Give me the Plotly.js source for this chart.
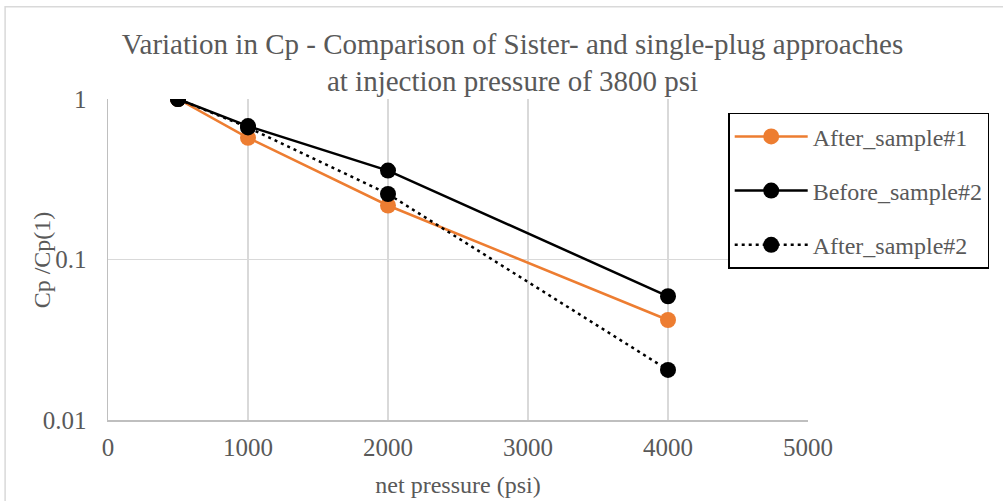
<!DOCTYPE html>
<html><head><meta charset="utf-8">
<script src="https://cdn.plot.ly/plotly-3.0.1.min.js"></script>
<style>html,body{margin:0;padding:0;background:#fff}#chart{width:1003px;height:501px}</style>
</head><body><div id="chart"></div>
<script>
const netPressure = [500, 1000, 2000, 4000];
const afterSample1 = [1, 0.573, 0.217, 0.042];
const beforeSample2 = [1, 0.678, 0.358, 0.059];
const afterSample2 = [1, 0.665, 0.256, 0.0205];
const seriesNames = ['After_sample#1', 'Before_sample#2', 'After_sample#2'];
const xTicks = [0, 1000, 2000, 3000, 4000, 5000];
const yTicks = [0.01, 0.1, 1];
const yTickText = ['0.01', '0.1', '1'];
const yTitle = 'Cp /Cp(1)';

const fontFam = '"Liberation Serif", "Times New Roman", serif';
const traces = [
  {x: netPressure, y: afterSample1, name: seriesNames[0], legendgroup: 'a', mode: 'lines+markers',
   line: {color: '#ED7D31', width: 2.5}, marker: {color: '#ED7D31', size: 16}},
  {x: netPressure, y: beforeSample2, name: seriesNames[1], legendgroup: 'b', mode: 'lines+markers',
   line: {color: '#000000', width: 2.5}, marker: {color: '#000000', size: 16}},
  {x: netPressure, y: afterSample2, name: seriesNames[2], legendgroup: 'c', mode: 'lines+markers',
   line: {color: '#000000', width: 2.5, dash: '3px,4px'}, marker: {color: '#000000', size: 16}}
];
const layout = {
  width: 1003, height: 501,
  margin: {l: 108, r: 195, t: 99, b: 81, autoexpand: false},
  paper_bgcolor: '#ffffff', plot_bgcolor: '#ffffff',
  font: {family: fontFam, color: '#595959', size: 24},
  title: {text: 'Variation in Cp - Comparison of Sister- and single-plug approaches<br>at injection pressure of 3800 psi',
          font: {family: fontFam, size: 29, color: '#595959'}, x: 0.511, xanchor: 'center', y: 0.893, yanchor: 'top'},
  xaxis: {range: [0, 5000], tickvals: xTicks, showgrid: true, gridcolor: '#d9d9d9', gridwidth: 1.5,
          showline: true, linecolor: '#bfbfbf', linewidth: 1.5, zeroline: false, ticks: '', ticklabelstandoff: 4,
          tickfont: {size: 25, color: '#595959'},
          title: {text: 'net pressure (psi)', font: {size: 24, color: '#595959'}, standoff: 16}},
  yaxis: {type: 'log', range: [-2, 0], tickvals: yTicks, ticktext: yTickText, showgrid: true, gridcolor: '#d9d9d9', gridwidth: 1.5,
          showline: true, linecolor: '#bfbfbf', linewidth: 1.5, zeroline: false, ticks: '', ticklabelstandoff: 15,
          tickfont: {size: 25, color: '#595959'}},
  annotations: [{text: yTitle, xref: 'paper', yref: 'paper', x: -0.094, y: 0.498, xanchor: 'center', yanchor: 'middle',
                 textangle: -90, showarrow: false, font: {size: 24, color: '#595959'}}],
  legend: {x: 0.886, y: 0.957, xanchor: 'left', yanchor: 'top', bordercolor: '#000000', borderwidth: 1.5,
           bgcolor: '#ffffff', font: {size: 24, color: '#595959'}, tracegroupgap: 20, itemwidth: 73,
           traceorder: 'grouped'},
  shapes: [{type: 'rect', xref: 'paper', yref: 'paper', x0: -0.147, x1: 1.3, y0: -0.3, y1: 1.287,
            line: {color: '#d9d9d9', width: 1.5}, layer: 'below'}],
  showlegend: true
};
Plotly.newPlot('chart', traces, layout, {displayModeBar: false, staticPlot: true});
</script></body></html>
